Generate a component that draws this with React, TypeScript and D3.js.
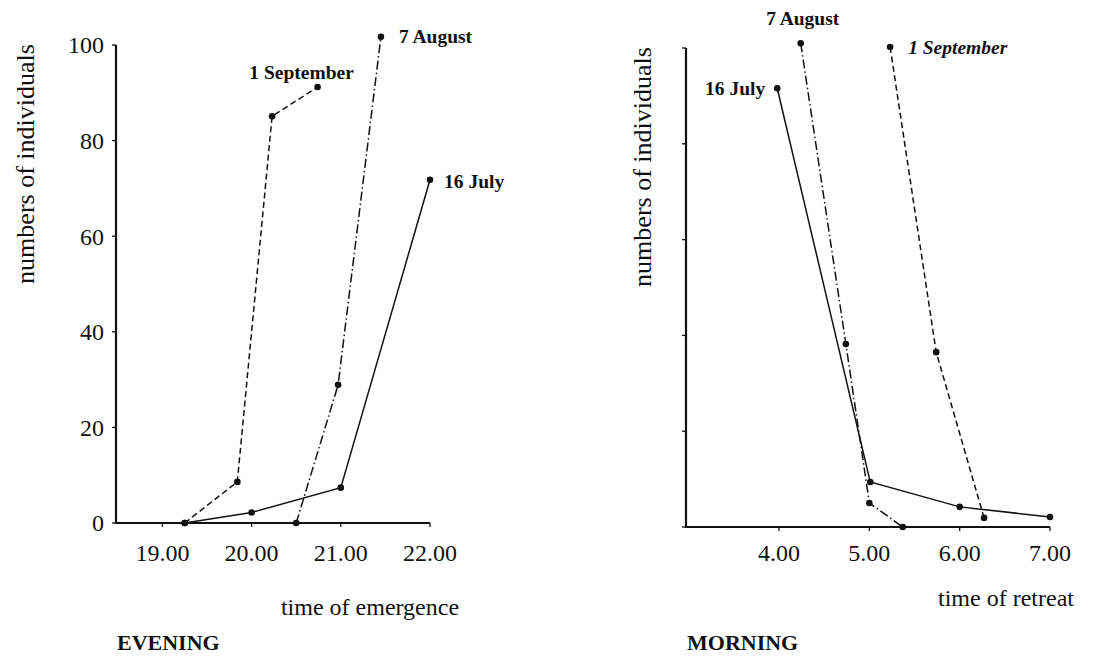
import React from 'react';
import * as d3 from 'd3';

type Pt = [number, number];

// evening (emergence) counts, x = hour of day
const eveJuly: Pt[] = [[19.25, 0], [20.0, 2.2], [21.0, 7.4], [22.0, 71.8]];
const eveAugust: Pt[] = [[20.5, 0], [20.97, 28.9], [21.45, 101.7]];
const eveSeptember: Pt[] = [[19.25, 0], [19.84, 8.6], [20.23, 85.1], [20.74, 91.2]];

// morning (retreat) counts
const mornJuly: Pt[] = [[3.98, 91.6], [5.01, 9.4], [6.0, 4.2], [7.0, 2.1]];
const mornAugust: Pt[] = [[4.24, 101], [4.74, 38.2], [5.0, 5], [5.37, 0]];
const mornSeptember: Pt[] = [[5.23, 100.2], [5.74, 36.5], [6.27, 1.9]];

const eveningTicks = [19, 20, 21, 22];
const morningTicks = [4, 5, 6, 7];
const countTicks = [0, 20, 40, 60, 80, 100];

const FONT = '"Liberation Serif", "Times New Roman", serif';
const DASHED = '6,3.5';
const DASHDOT = '9,3,1.5,3';

interface SeriesDef {
    pts: Pt[];
    dash?: string;
    label: string;
    dx: number;
    dy: number;
    anchor: 'start' | 'middle' | 'end';
    italic?: boolean;
}

interface PanelProps {
    xDomain: [number, number];
    xRange: [number, number];
    yRange: [number, number];
    xTicks: number[];
    showYLabels: boolean;
    yTitleX: number;
    yTitleY: number;
    xTitle: string;
    xTitleX: number;
    xTitleY: number;
    caption: string;
    labelFirst: boolean;
    series: SeriesDef[];
}

const Panel: React.FC<PanelProps> = (p) => {
    const x = d3.scaleLinear().domain(p.xDomain).range(p.xRange);
    const y = d3.scaleLinear().domain([0, 100]).range(p.yRange);
    const line = d3.line<Pt>().x(d => x(d[0])).y(d => y(d[1]));
    const y0 = y(0);

    return (
        <g fontFamily={FONT} fill="#111">
            {/* axes */}
            <line x1={p.xRange[0]} x2={p.xRange[0]} y1={y(100)} y2={y0 + 1} stroke="#111" strokeWidth={2.2} />
            <line x1={p.xRange[0]} x2={p.xRange[1]} y1={y0} y2={y0} stroke="#111" strokeWidth={2.2} />
            {countTicks.map(t => (
                <g key={t}>
                    <line x1={p.xRange[0] - 4} x2={p.xRange[0]} y1={y(t)} y2={y(t)} stroke="#111" strokeWidth={1.3} />
                    {p.showYLabels && (
                        <text x={p.xRange[0] - 12} y={y(t)} dy="0.35em" textAnchor="end" fontSize={24}>{t}</text>
                    )}
                </g>
            ))}
            {p.xTicks.map(t => (
                <g key={t}>
                    <line x1={x(t)} x2={x(t)} y1={y0} y2={y0 + 4} stroke="#111" strokeWidth={1.3} />
                    <text x={x(t)} y={553} dy="0.35em" textAnchor="middle" fontSize={24}>{t.toFixed(2)}</text>
                </g>
            ))}
            <text transform={`translate(${p.yTitleX},${p.yTitleY}) rotate(-90)`} textAnchor="middle" dy="0.35em" fontSize={26}>
                numbers of individuals
            </text>
            <text x={p.xTitleX} y={p.xTitleY} dy="0.35em" textAnchor="middle" fontSize={24}>{p.xTitle}</text>
            <text x={p.xRange[0] + 1} y={650} fontSize={22} fontWeight="bold">{p.caption}</text>

            {/* series */}
            {p.series.map(s => {
                const lp = p.labelFirst ? s.pts[0] : s.pts[s.pts.length - 1];
                return (
                    <g key={s.label}>
                        <path d={line(s.pts) ?? ''} fill="none" stroke="#111" strokeWidth={1.5} strokeDasharray={s.dash} />
                        {s.pts.map((d, i) => (
                            <circle key={i} cx={x(d[0])} cy={y(d[1])} r={3.3} fill="#111" />
                        ))}
                        <text x={x(lp[0]) + s.dx} y={y(lp[1]) + s.dy} dy="0.35em" textAnchor={s.anchor}
                              fontSize={19.5} fontWeight="bold" fontStyle={s.italic ? 'italic' : 'normal'}>
                            {s.label}
                        </text>
                    </g>
                );
            })}
        </g>
    );
};

const App: React.FC = () => {
    return (
        <svg width={1108} height={656} style={{position: 'absolute', left: 0, top: 0, background: '#fff'}}>
            <Panel
                xDomain={[18.48, 22]} xRange={[116, 430]} yRange={[523, 45]}
                xTicks={eveningTicks} showYLabels={true} yTitleX={25} yTitleY={164}
                xTitle="time of emergence" xTitleX={370} xTitleY={607} caption="EVENING" labelFirst={false}
                series={[
                    {pts: eveJuly, label: '16 July', dx: 14, dy: 1, anchor: 'start'},
                    {pts: eveAugust, dash: DASHDOT, label: '7 August', dx: 18, dy: -1, anchor: 'start'},
                    {pts: eveSeptember, dash: DASHED, label: '1 September', dx: -16, dy: -15, anchor: 'middle'},
                ]}
            />
            <Panel
                xDomain={[2.97, 7]} xRange={[686, 1050]} yRange={[527, 48]}
                xTicks={morningTicks} showYLabels={false} yTitleX={642} yTitleY={167}
                xTitle="time of retreat" xTitleX={1006} xTitleY={598} caption="MORNING" labelFirst={true}
                series={[
                    {pts: mornJuly, label: '16 July', dx: -12, dy: 0, anchor: 'end'},
                    {pts: mornAugust, dash: DASHDOT, label: '7 August', dx: 2, dy: -25, anchor: 'middle'},
                    {pts: mornSeptember, dash: DASHED, label: '1 September', dx: 18, dy: 0, anchor: 'start', italic: true},
                ]}
            />
        </svg>
    );
};

export default App;
